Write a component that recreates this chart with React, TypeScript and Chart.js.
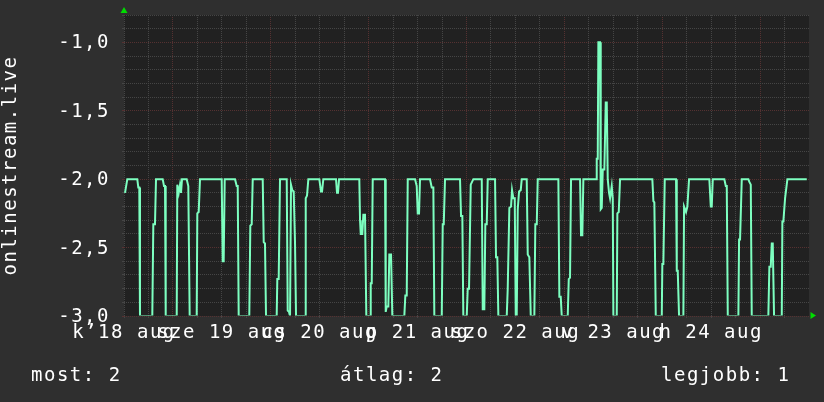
import React, { useEffect, useRef } from 'react';
import { Chart, registerables } from 'chart.js';

Chart.register(...registerables);

// hours since 18 Aug 12:00
const TIMES = [
  0.25, 0.81, 3.26, 3.51, 3.75, 3.92, 6.94, 7.19, 7.60, 7.85,
  9.49, 9.81, 10.06, 10.23, 12.93, 13.07, 13.42, 13.74, 13.98, 14.23,
  15.38, 15.77, 15.94, 16.11, 17.83, 17.98, 18.32, 18.64, 23.96, 24.21,
  24.45, 24.70, 27.23, 27.64, 27.89, 28.13, 30.73, 30.98, 31.32, 31.57,
  34.02, 34.27, 34.58, 34.83, 37.45, 37.60, 37.94, 38.26, 39.91, 40.15,
  40.47, 40.72, 40.96, 41.28, 41.62, 41.94, 42.19, 44.40, 44.57, 44.89,
  45.21, 47.90, 48.32, 48.57, 48.88, 52.00, 52.24, 52.49, 52.74, 57.71,
  57.89, 58.06, 58.45, 58.70, 59.11, 59.43, 60.34, 60.51, 60.76, 61.00,
  64.02, 64.19, 64.44, 64.83, 65.07, 65.49, 65.81, 68.75, 69.00, 69.34,
  69.59, 71.38, 71.79, 72.04, 72.36, 72.60, 75.06, 75.47, 75.87, 76.11,
  77.93, 78.17, 78.42, 78.73, 82.41, 82.66, 82.98, 83.22, 84.06, 84.30,
  84.62, 85.04, 85.68, 87.74, 87.98, 88.37, 88.62, 88.96, 89.21, 91.00,
  91.24, 91.56, 91.81, 93.87, 94.11, 94.51, 94.92, 95.17, 95.49, 95.83,
  96.08, 96.32, 96.57, 96.89, 97.30, 97.55, 98.77, 99.02, 99.41, 99.76,
  100.64, 100.88, 101.23, 101.47, 106.53, 106.77, 107.11, 107.36, 108.83, 109.08,
  109.39, 109.64, 111.85, 112.09, 112.41, 112.66, 115.77, 115.94, 116.19, 116.34,
  116.75, 116.92, 117.17, 117.42, 117.81, 118.15, 118.40, 118.64, 118.96, 119.21,
  119.62, 119.87, 120.02, 120.85, 121.00, 121.34, 121.66, 129.58, 129.83, 130.07,
  130.42, 131.89, 132.03, 132.28, 132.62, 135.39, 135.57, 135.81, 136.13, 137.19,
  137.36, 137.85, 138.17, 138.58, 143.56, 143.91, 144.15, 144.40, 147.24, 147.59,
  147.83, 148.08, 150.68, 150.85, 151.09, 151.51, 153.13, 153.37, 153.72, 153.96,
  158.03, 158.28, 158.62, 158.87, 159.11, 159.43, 161.32, 161.47, 161.71, 162.13,
  162.30, 162.70, 167.45,
];

const VALUES = [
  -2.10, -2.00, -2.00, -2.06, -2.06, -3.00, -3.00, -2.33, -2.33, -2.00,
  -2.00, -2.05, -2.05, -3.00, -3.00, -2.04, -2.10, -2.04, -2.10, -2.00,
  -2.00, -2.05, -2.05, -3.00, -3.00, -2.25, -2.24, -2.00, -2.00, -2.60,
  -2.60, -2.00, -2.00, -2.05, -2.05, -3.00, -3.00, -2.34, -2.33, -2.00,
  -2.00, -2.46, -2.47, -3.00, -3.00, -2.73, -2.73, -2.00, -2.00, -2.96,
  -2.97, -3.00, -2.04, -2.08, -2.09, -2.46, -3.00, -3.00, -2.14, -2.12,
  -2.00, -2.00, -2.09, -2.09, -2.00, -2.00, -2.10, -2.10, -2.00, -2.00,
  -2.30, -2.40, -2.40, -2.26, -2.26, -3.00, -3.00, -2.76, -2.76, -2.00,
  -2.00, -2.97, -2.93, -2.93, -2.55, -2.55, -3.00, -3.00, -2.85, -2.85,
  -2.00, -2.00, -2.05, -2.25, -2.25, -2.00, -2.00, -2.06, -2.06, -3.00,
  -3.00, -2.33, -2.33, -2.00, -2.00, -2.27, -2.27, -3.00, -3.00, -2.80,
  -2.80, -2.04, -2.00, -2.00, -2.95, -2.95, -2.33, -2.33, -2.00, -2.00,
  -2.57, -2.57, -3.00, -3.00, -2.80, -2.21, -2.20, -2.08, -2.14, -2.14,
  -3.00, -3.00, -2.22, -2.09, -2.08, -2.00, -2.00, -2.55, -2.57, -3.00,
  -3.00, -2.33, -2.33, -2.00, -2.00, -2.86, -2.86, -3.00, -3.00, -2.73,
  -2.72, -2.00, -2.00, -2.41, -2.41, -2.00, -2.00, -1.85, -1.85, -1.00,
  -1.00, -2.22, -2.21, -1.93, -1.93, -1.44, -1.44, -2.00, -2.10, -2.14,
  -2.05, -2.14, -3.00, -3.00, -2.25, -2.24, -2.00, -2.00, -2.16, -2.17,
  -3.00, -3.00, -2.62, -2.62, -2.00, -2.00, -2.67, -2.67, -3.00, -3.00,
  -2.20, -2.24, -2.20, -2.00, -2.00, -2.20, -2.20, -2.00, -2.00, -2.05,
  -2.05, -3.00, -3.00, -2.44, -2.44, -2.00, -2.00, -2.02, -2.04, -3.00,
  -3.00, -2.64, -2.64, -2.47, -2.47, -3.00, -3.00, -2.31, -2.31, -2.14,
  -2.14, -2.00, -2.00,
];

const DAY_LABELS = ['k\u201918 aug', 'sze 19 aug', 'cs 20 aug', 'p 21 aug', 'szo 22 aug', 'v 23 aug', 'h 24 aug'];
const DAY_LABEL_HOURS = [0, 24, 48, 72, 96, 120, 144];
const X_GRID_HOURS = [0, 6, 12, 18, 24, 30, 36, 42, 48, 54, 60, 66, 72, 78, 84, 90, 96, 102, 108, 114, 120, 126, 132, 138, 144, 150, 156, 162];
const MIDNIGHT_HOURS = [12, 36, 60, 84, 108, 132, 156];

const Y_TICKS = [-3.0, -2.9, -2.8, -2.7, -2.6, -2.5, -2.4, -2.3, -2.2, -2.1, -2.0, -1.9, -1.8, -1.7, -1.6, -1.5, -1.4, -1.3, -1.2, -1.1, -1.0, -0.9, -0.8];
const Y_MAJOR = [-3.0, -2.5, -2.0, -1.5, -1.0];
const Y_LABELS = ['-3,0', '-2,5', '-2,0', '-1,5', '-1,0'];

const Y_TITLE = 'onlinestream.live';
const STAT_TEXTS = ['most: 2', '\u00e1tlag: 2', 'legjobb: 1'];

const FAMILY = '"DejaVu Sans Mono", monospace';
const FONT_SIZE = 19;
const SPACING = '1.5px';
const BG = '#2f2f2f';
const PLOT_BG = '#212121';
const MINOR = '#454545';
const MAJOR = '#553131';
const LINE = '#7dffc0';
const ARROW = '#00dd00';
const TEXT = '#ffffff';

const isMajorY = (v: number) => Y_MAJOR.some((m) => Math.abs(m - v) < 1e-6);

const rrdPlugin = {
  id: 'rrdLook',
  beforeLayout(chart: any) {
    chart.ctx.letterSpacing = SPACING;
  },
  beforeDraw(chart: any) {
    const { ctx, chartArea: a, width, height } = chart;
    ctx.save();
    ctx.fillStyle = BG;
    ctx.fillRect(0, 0, width, height);
    ctx.fillStyle = PLOT_BG;
    ctx.fillRect(a.left, a.top, a.right - a.left, a.bottom - a.top);
    ctx.restore();
    ctx.letterSpacing = SPACING;
  },
  afterDraw(chart: any) {
    const { ctx, chartArea: a } = chart;
    ctx.save();
    ctx.fillStyle = ARROW;
    ctx.beginPath();
    ctx.moveTo(a.left - 3.5, a.top - 2);
    ctx.lineTo(a.left + 3.5, a.top - 2);
    ctx.lineTo(a.left, a.top - 8);
    ctx.closePath();
    ctx.fill();
    ctx.beginPath();
    ctx.moveTo(a.right + 1.5, a.bottom - 4);
    ctx.lineTo(a.right + 1.5, a.bottom + 3);
    ctx.lineTo(a.right + 7, a.bottom - 0.5);
    ctx.closePath();
    ctx.fill();

    ctx.letterSpacing = SPACING;
    ctx.fillStyle = TEXT;
    ctx.font = `${FONT_SIZE}px ${FAMILY}`;
    ctx.textBaseline = 'alphabetic';
    ctx.textAlign = 'left';
    const xs = [31, 340, 661];
    STAT_TEXTS.forEach((t, i) => ctx.fillText(t, xs[i], 381));
    ctx.restore();
  },
};

export default function App() {
  const ref = useRef<HTMLCanvasElement | null>(null);

  useEffect(() => {
    document.body.style.margin = '0';
    const canvas = ref.current;
    if (!canvas) return;
    const n = Math.min(TIMES.length, VALUES.length);
    const points = [];
    for (let i = 0; i < n; i++) points.push({ x: TIMES[i], y: VALUES[i] });
    const font = { family: FAMILY, size: FONT_SIZE };

    const chart = new Chart(canvas, {
      type: 'line',
      data: {
        datasets: [
          {
            data: points,
            borderColor: LINE,
            backgroundColor: LINE,
            borderWidth: 2,
            pointRadius: 0,
            tension: 0,
            fill: false,
            clip: { left: 0, top: 0, right: 0, bottom: -0.5 },
          } as any,
        ],
      },
      plugins: [rrdPlugin],
      options: {
        animation: false,
        responsive: false,
        maintainAspectRatio: false,
        layout: { padding: { top: 15, right: 15, left: 0, bottom: 0 } },
        plugins: { legend: { display: false }, tooltip: { enabled: false } },
        events: [],
        scales: {
          x: {
            type: 'linear',
            min: 0,
            max: 168,
            afterBuildTicks: (s: any) => {
              s.ticks = X_GRID_HOURS.map((v) => ({ value: v }));
            },
            afterFit: (s: any) => {
              s.height = 86;
              s.paddingLeft = 0;
              s.paddingRight = 0;
              s.paddingTop = 0;
              s.paddingBottom = 0;
            },
            ticks: {
              autoSkip: false,
              maxRotation: 0,
              minRotation: 0,
              color: TEXT,
              font,
              padding: 4,
              callback: (v: any) => {
                const i = DAY_LABEL_HOURS.indexOf(Number(v));
                return i >= 0 ? DAY_LABELS[i] : '';
              },
            },
            grid: {
              color: (c: any) => (c.tick && MIDNIGHT_HOURS.includes(c.tick.value) ? MAJOR : MINOR),
              tickColor: (c: any) => (c.tick && MIDNIGHT_HOURS.includes(c.tick.value) ? MAJOR : MINOR),
              lineWidth: 1,
              drawTicks: true,
              tickLength: 2,
            },
            border: { display: false, dash: [1, 1] },
          } as any,
          y: {
            type: 'linear',
            min: -3,
            max: -0.8,
            afterBuildTicks: (s: any) => {
              s.ticks = Y_TICKS.map((v) => ({ value: v }));
            },
            afterFit: (s: any) => {
              s.width = 124;
              s.paddingLeft = 0;
              s.paddingRight = 0;
              s.paddingTop = 0;
              s.paddingBottom = 0;
            },
            ticks: {
              autoSkip: false,
              color: TEXT,
              font,
              padding: 12,
              labelOffset: 1,
              callback: (v: any) => {
                const i = Y_MAJOR.findIndex((m) => Math.abs(m - Number(v)) < 1e-6);
                return i >= 0 ? Y_LABELS[i] : '';
              },
            },
            grid: {
              color: (c: any) => (c.tick && isMajorY(c.tick.value) ? MAJOR : MINOR),
              tickColor: (c: any) => (c.tick && isMajorY(c.tick.value) ? MAJOR : MINOR),
              lineWidth: 1,
              drawTicks: true,
              tickLength: 2,
            },
            border: { display: false, dash: [1, 1] },
            title: { display: true, text: Y_TITLE, color: TEXT, font, padding: 0 },
          } as any,
        },
      },
    });
    return () => chart.destroy();
  }, []);

  return (
    <div style={{ width: 824, height: 402, background: BG }}>
      <canvas ref={ref} width={824} height={402} style={{ display: 'block', width: 824, height: 402 }} />
    </div>
  );
}
